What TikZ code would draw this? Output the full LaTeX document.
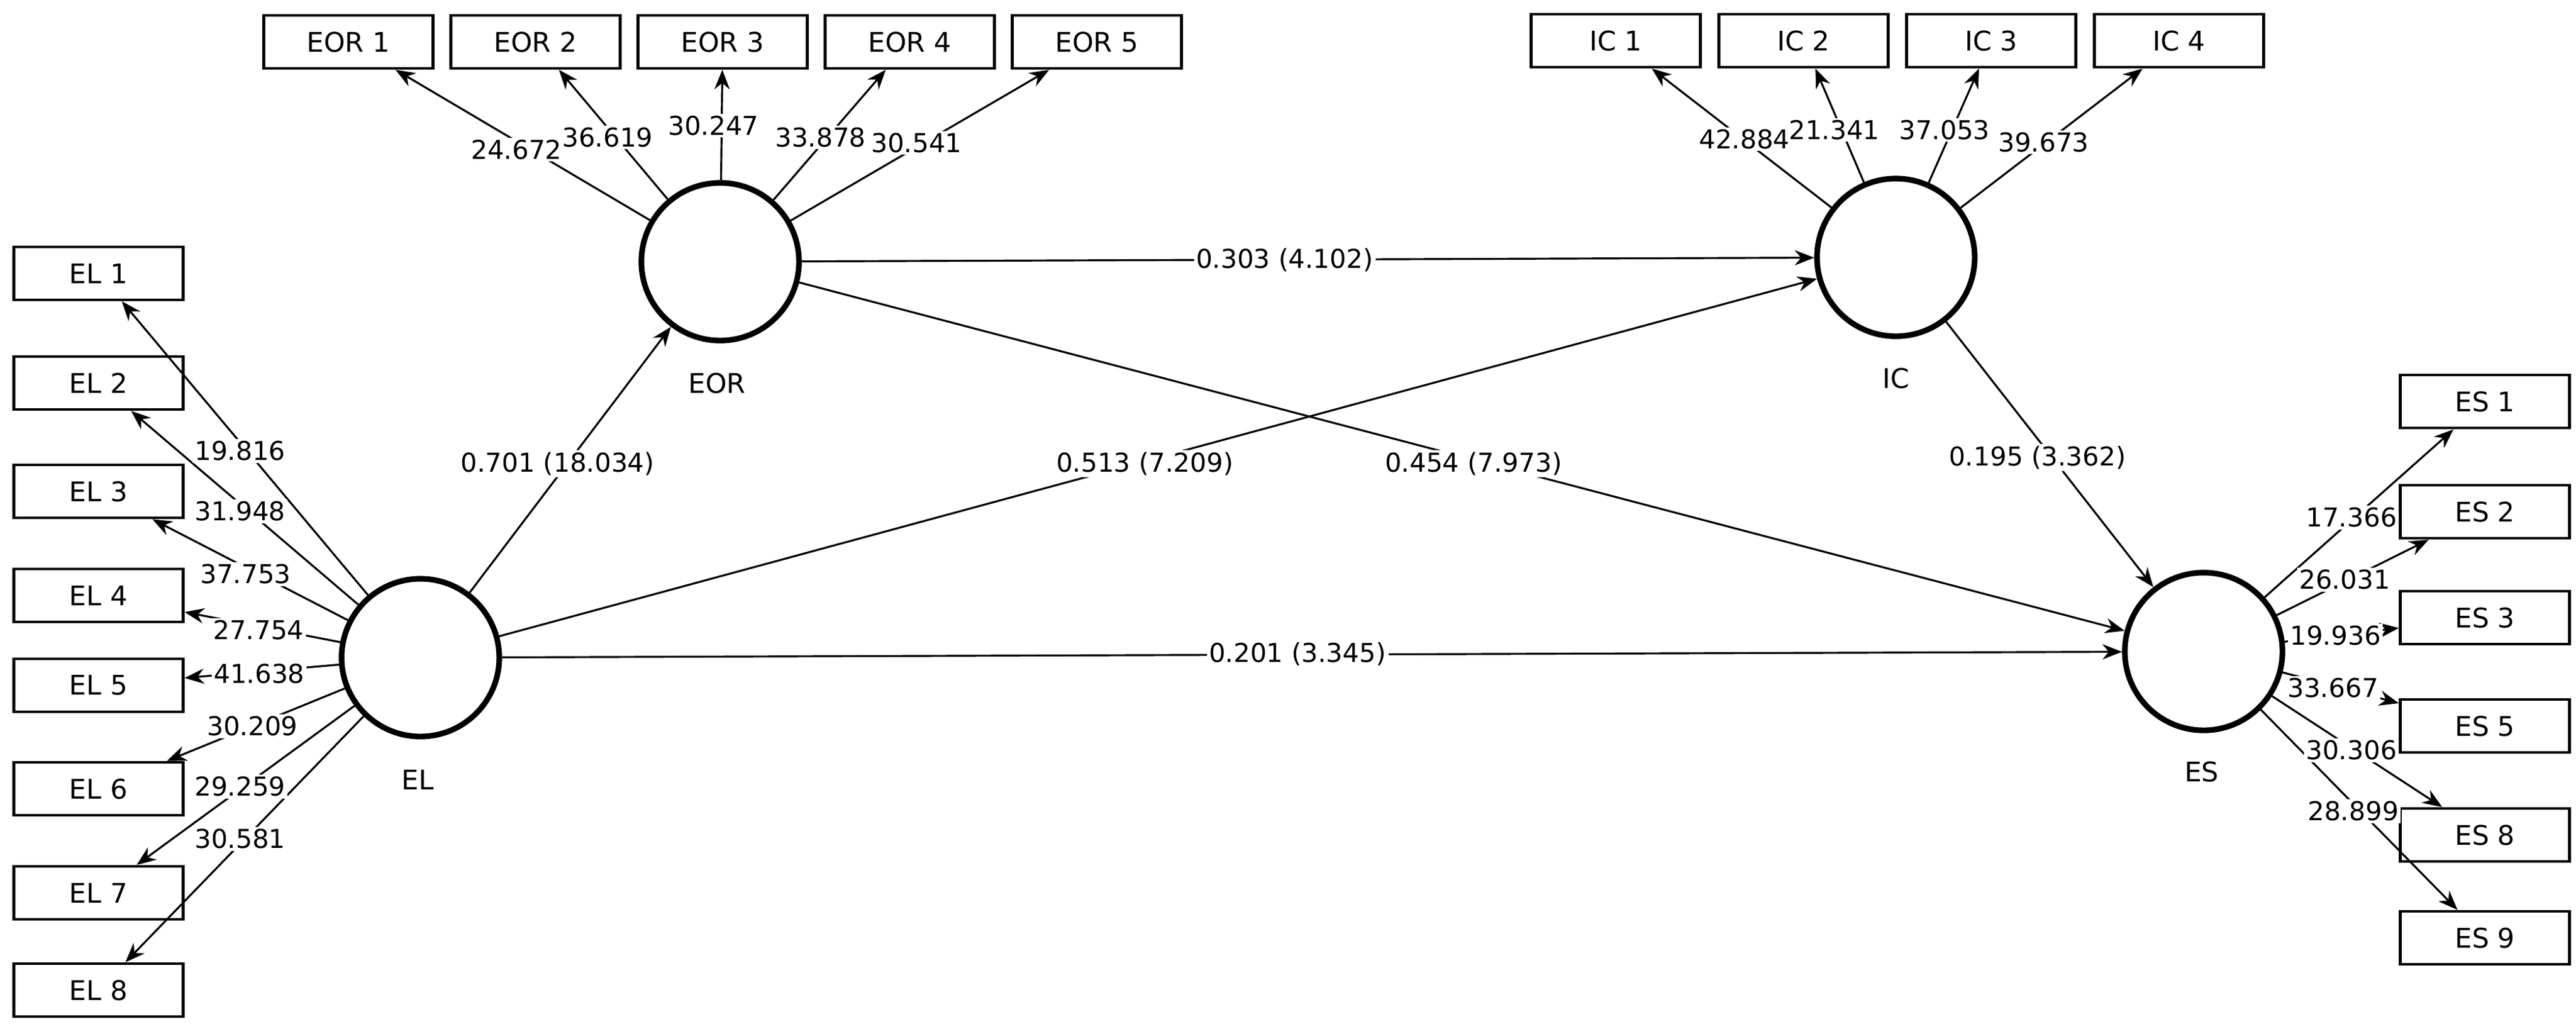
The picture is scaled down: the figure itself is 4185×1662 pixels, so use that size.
\documentclass[tikz,border=0pt]{standalone}
\usepackage{fontspec}
\setmainfont{DejaVu Sans}
\usetikzlibrary{arrows.meta}
\begin{document}
\begin{tikzpicture}[x=0.01cm,y=-0.01cm,
  ind/.style={draw,line width=1.3pt,minimum width=2.75cm,minimum height=0.86cm,inner sep=0pt,font=\fontsize{12.5}{15}\selectfont},
  lat/.style={draw,circle,line width=2.6pt,minimum size=2.56cm,inner sep=0pt},
  ln/.style={line width=0.9pt,-{Stealth[length=9pt,width=7pt]}},
  lbl/.style={fill=white,inner sep=1pt,font=\fontsize{12}{14}\selectfont},
  nm/.style={font=\fontsize{12.5}{15}\selectfont}]
\useasboundingbox (0,0) rectangle (4185,1662);
% latent
\node[lat] (EOR) at (1170,425) {};
\node[lat] (EL) at (683,1068) {};
\node[lat] (IC) at (3080,418) {};
\node[lat] (ES) at (3580,1058) {};
\node[nm] (tEOR) at (1165,622) {EOR};
\node[nm] (tEL) at (679,1266) {EL};
\node[nm] (tIC) at (3080,614) {IC};
\node[nm] (tES) at (3577,1253) {ES};
% indicators
\foreach \i/\x in {1/566,2/870,3/1174,4/1478,5/1782}{\node[ind] (EOR\i) at (\x,68) {EOR \i};}
\foreach \i/\x in {1/2625,2/2930,3/3235,4/3540}{\node[ind] (IC\i) at (\x,66) {IC \i};}
\foreach \i/\y in {1/444,2/622,3/798,4/967,5/1113,6/1281,7/1450,8/1608}{\node[ind] (EL\i) at (160,\y) {EL \i};}
\foreach \i/\y in {1/652,2/831,3/1003,5/1179,8/1356,9/1523}{\node[ind] (ES\i) at (4037,\y) {ES \i};}
% loadings
\foreach \i in {1,...,5}{\draw[ln] (EOR) -- (EOR\i);}
\foreach \i in {1,...,4}{\draw[ln] (IC) -- (IC\i);}
\foreach \i in {1,...,8}{\draw[ln] (EL) -- (EL\i);}
\foreach \i in {1,2,3,5,8,9}{\draw[ln] (ES) -- (ES\i);}
% structural
\draw[ln] (EL) -- (EOR);
\draw[ln] (EOR) -- (IC);
\draw[ln] (EOR) -- (ES);
\draw[ln] (EL) -- (IC);
\draw[ln] (EL) -- (ES);
\draw[ln] (IC) -- (ES);
% labels
\node[lbl] at (839,243) {24.672};
\node[lbl] at (987,223) {36.619};
\node[lbl] at (1159,204) {30.247};
\node[lbl] at (1333,223) {33.878};
\node[lbl] at (1489,232) {30.541};
\node[lbl] at (2834,226) {42.884};
\node[lbl] at (2980,211) {21.341};
\node[lbl] at (3159,211) {37.053};
\node[lbl] at (3320,231) {39.673};
\node[lbl] at (390,732) {19.816};
\node[lbl] at (390,830) {31.948};
\node[lbl] at (399,932) {37.753};
\node[lbl] at (420,1023) {27.754};
\node[lbl] at (421,1094) {41.638};
\node[lbl] at (410,1179) {30.209};
\node[lbl] at (390,1277) {29.259};
\node[lbl] at (390,1362) {30.581};
\node[lbl] at (3820,840) {17.366};
\node[lbl] at (3809,941) {26.031};
\node[lbl] at (3794,1032) {19.936};
\node[lbl] at (3790,1117) {33.667};
\node[lbl] at (3820,1218) {30.306};
\node[lbl] at (3823,1317) {28.899};
\node[lbl] at (906,753) {0.701 (18.034)};
\node[lbl] at (2087,422) {0.303 (4.102)};
\node[lbl] at (1860,753) {0.513 (7.209)};
\node[lbl] at (2394,753) {0.454 (7.973)};
\node[lbl] at (2108,1062) {0.201 (3.345)};
\node[lbl] at (3310,743) {0.195 (3.362)};
\end{tikzpicture}
\end{document}
